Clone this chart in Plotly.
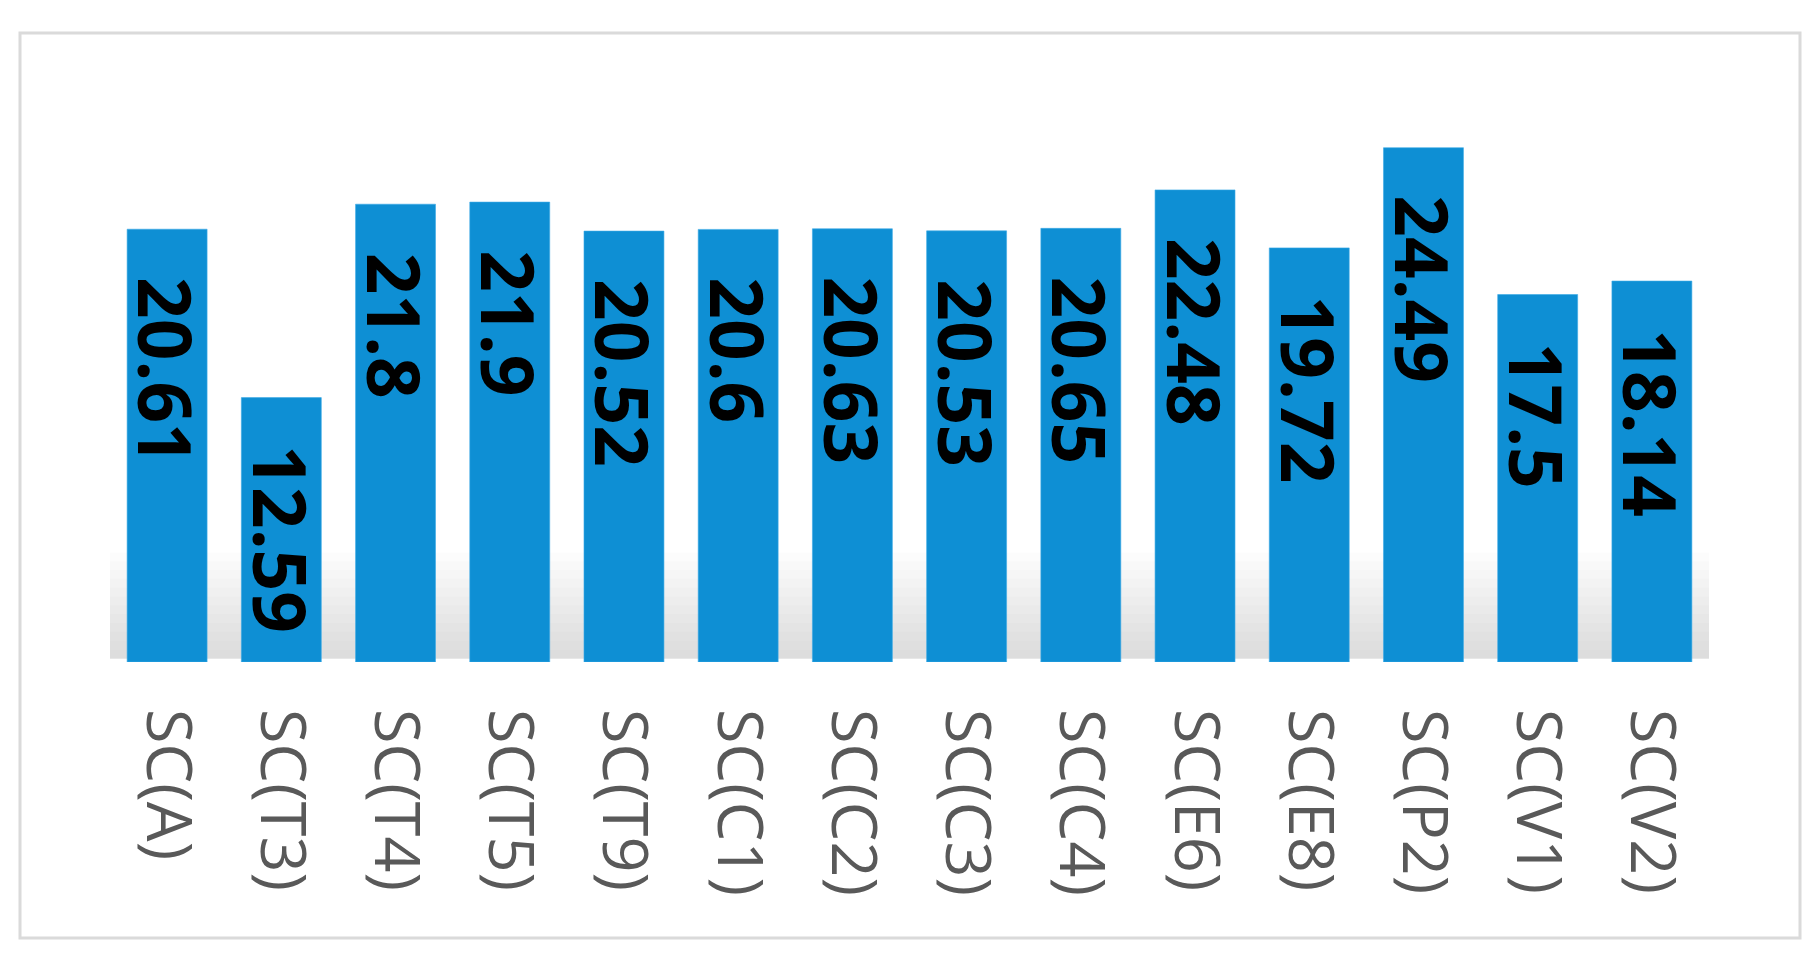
import plotly.graph_objects as go

categories = ["SC(A)", "SC(T3)", "SC(T4)", "SC(T5)", "SC(T9)", "SC(C1)", "SC(C2)",
              "SC(C3)", "SC(C4)", "SC(E6)", "SC(E8)", "SC(P2)", "SC(V1)", "SC(V2)"]
values = [20.61, 12.59, 21.8, 21.9, 20.52, 20.6, 20.63, 20.53, 20.65, 22.48, 19.72, 24.49, 17.5, 18.14]
value_labels = ["20.61", "12.59", "21.8", "21.9", "20.52", "20.6", "20.63",
                "20.53", "20.65", "22.48", "19.72", "24.49", "17.5", "18.14"]

W, H = 1820, 969
ML, MR, MT, MB = 110, 111, 60, 307
YMAX = (H - MB - MT) / 21.0

fig = go.Figure()
fig.add_trace(go.Bar(
    x=categories, y=values,
    marker=dict(color="#0e8fd4", line=dict(width=1, color="rgba(60,170,230,0.6)")),
    hoverinfo="x+y",
))

# soft shadow under the bars (stacked translucent layers)
for i in range(12):
    top = 0.6 + i * 0.42
    fig.add_shape(type="rect", xref="x", yref="y", x0=-0.55, x1=13.5, y0=0.15, y1=top,
                  fillcolor="rgba(160,160,160,0.035)", line=dict(width=0), layer="below")

# value labels
for c, v, t in zip(categories, values, value_labels):
    fig.add_annotation(x=c, y=v, text=t, showarrow=False, textangle=90,
                       xanchor="center", yanchor="top", yshift=-46,
                       font=dict(family="Open Sans", size=73, color="#000000", weight="bold"))

# outer frame
pw = W - ML - MR
ph = H - MT - MB
fig.add_shape(type="rect", xref="paper", yref="paper",
              x0=(20 - ML) / pw, x1=(1800 - ML) / pw,
              y0=(H - MB - 938) / ph, y1=(H - MB - 33) / ph,
              line=dict(color="#dadada", width=3), fillcolor="rgba(0,0,0,0)", layer="below")

fig.update_layout(
    width=W, height=H,
    margin=dict(l=ML, r=MR, t=MT, b=MB, autoexpand=False),
    paper_bgcolor="white", plot_bgcolor="white",
    bargap=0.3, showlegend=False,
    xaxis=dict(tickangle=90, showgrid=False, showline=False, zeroline=False,
               range=[-0.5, len(categories) - 0.5],
               ticks="", ticklabelstandoff=46, automargin=False,
               tickfont=dict(family="Open Sans", size=63, color="#595959")),
    yaxis=dict(range=[0, YMAX], visible=False, showgrid=False, zeroline=False,
               automargin=False),
)

fig.write_html("out.html", config={"displayModeBar": False},
               post_script="document.body.style.margin='0px';")
